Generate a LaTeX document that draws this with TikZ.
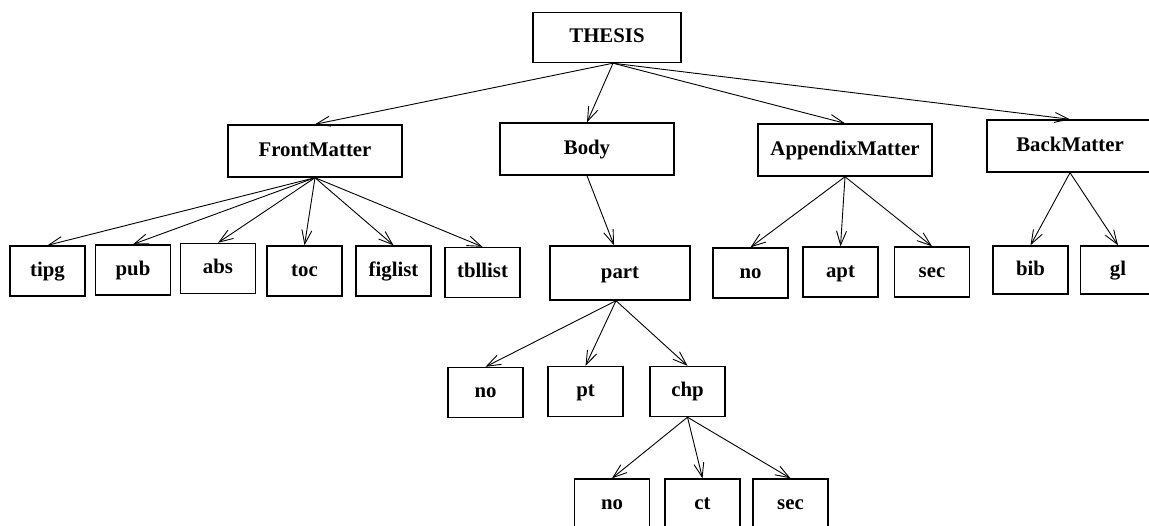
\documentclass[tikz,border=0pt]{standalone}
\usepackage{fontspec}
\setmainfont{Liberation Serif}
\usetikzlibrary{arrows.meta}
\tikzstyle{box}=[draw, rectangle, line width=0.7pt, inner sep=0pt, minimum height=25pt, text height=7pt, text depth=2pt, font=\fontsize{10.4}{12}\selectfont\bfseries]
\tikzstyle{smallbox}=[box, minimum width=37.5pt]
\tikzstyle{widebox}=[box, minimum width=87pt, minimum height=26pt]
\tikzstyle{link}=[draw=black, line width=0.45pt, -{Straight Barb[length=7pt, width=5pt]}]
\begin{document}
\begin{tikzpicture}[x=0.5pt, y=-0.5pt]
	\useasboundingbox (0,0) rectangle (1149,525);
	\begin{scope}
		% top level
		\node (thesis) at (607, 37.5)[box, minimum width=74pt] {THESIS};
		\node (front) at (315, 151)[widebox] {FrontMatter};
		\node (body) at (587, 149)[widebox] {Body};
		\node (appx) at (845, 150)[widebox] {AppendixMatter};
		\node (back) at (1070, 146)[widebox, minimum width=83pt] {BackMatter};
		% front matter
		\node (tipg) at (47.5, 271)[smallbox] {tipg};
		\node (pub) at (133, 270)[smallbox] {pub};
		\node (abs) at (218, 268.5)[smallbox] {abs};
		\node (toc) at (304.5, 271)[smallbox] {toc};
		\node (figlist) at (393.5, 271)[smallbox] {figlist};
		\node (tbllist) at (482.5, 272.5)[smallbox] {tbllist};
		% body
		\node (part) at (620, 273)[box, minimum width=70pt, minimum height=27pt] {part};
		\node (pno) at (485.5, 392.5)[smallbox] {no};
		\node (pt) at (585.5, 391.5)[smallbox] {pt};
		\node (chp) at (687.5, 391.5)[smallbox] {chp};
		\node (cno) at (612, 504)[smallbox] {no};
		\node (ct) at (702.5, 504)[smallbox] {ct};
		\node (csec) at (790.5, 504)[smallbox] {sec};
		% appendix and back matter
		\node (ano) at (750.5, 273)[smallbox] {no};
		\node (apt) at (840.5, 272)[smallbox] {apt};
		\node (asec) at (932, 272)[smallbox] {sec};
		\node (bib) at (1030.5, 270)[smallbox, minimum height=24pt] {bib};
		\node (gl) at (1118, 270)[smallbox, minimum height=24pt] {gl};
	\end{scope}
	\begin{scope}
		\path ([xshift=3pt]thesis.south) edge[link] (front.north);
		\path ([xshift=3pt]thesis.south) edge[link] (body.north);
		\path ([xshift=3pt]thesis.south) edge[link] (appx.north);
		\path ([xshift=3pt]thesis.south) edge[link] (back.north);
		\path (front.south) edge[link] (tipg.north);
		\path (front.south) edge[link] (pub.north);
		\path (front.south) edge[link] (abs.north);
		\path (front.south) edge[link] (toc.north);
		\path (front.south) edge[link] (figlist.north);
		\path (front.south) edge[link] (tbllist.north);
		\path (body.south) edge[link] ([xshift=-3pt]part.north);
		\path ([xshift=-2pt]part.south) edge[link] (pno.north);
		\path ([xshift=-2pt]part.south) edge[link] (pt.north);
		\path ([xshift=-2pt]part.south) edge[link] (chp.north);
		\path (chp.south) edge[link] (cno.north);
		\path (chp.south) edge[link] (ct.north);
		\path (chp.south) edge[link] (csec.north);
		\path (appx.south) edge[link] (ano.north);
		\path (appx.south) edge[link] (apt.north);
		\path (appx.south) edge[link] (asec.north);
		\path (back.south) edge[link] (bib.north);
		\path (back.south) edge[link] (gl.north);
	\end{scope}
\end{tikzpicture}
\end{document}
